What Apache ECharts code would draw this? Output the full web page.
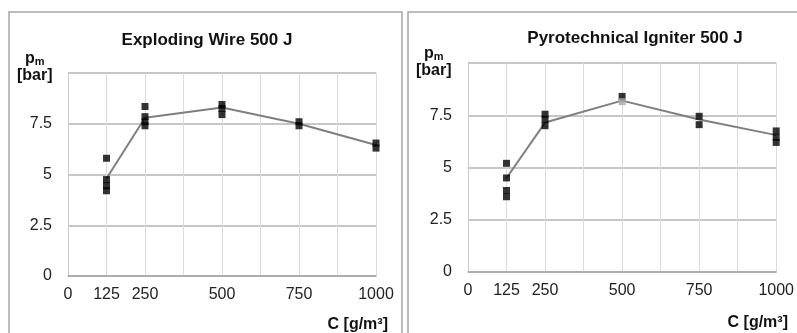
<!DOCTYPE html>
<html>
<head>
<meta charset="utf-8">
<script src="https://cdn.jsdelivr.net/npm/echarts@6/dist/echarts.min.js"></script>
<style>
  html, body { margin: 0; padding: 0; background: #fff; }
  #chart { width: 797px; height: 333px; }
</style>
</head>
<body>
<div id="chart"></div>
<script>
// concentration axis (g/m³)
const xTicks = [0, 125, 250, 500, 750, 1000]
const concentrations = [125, 250, 500, 750, 1000]

// Exploding wire 500 J: mean line + single shots
const wireMean = [4.8, 7.8, 8.3, 7.5, 6.45]
const wireShots = [
  [125, 5.8], [125, 4.75], [125, 4.45], [125, 4.2],
  [250, 8.35], [250, 7.85], [250, 7.6], [250, 7.4],
  [500, 8.45], [500, 8.25], [500, 7.95],
  [750, 7.6], [750, 7.4],
  [1000, 6.55], [1000, 6.3],
]

// Pyrotechnical igniter 500 J
const igniterMean = [4.5, 7.15, 8.2, 7.3, 6.55]
const igniterShots = [
  [125, 5.2], [125, 4.5], [125, 3.9], [125, 3.6],
  [250, 7.55], [250, 7.3], [250, 7.0],
  [500, 8.4],
  [750, 7.45], [750, 7.05],
  [1000, 6.75], [1000, 6.45], [1000, 6.2],
]
const igniterGrey = [[500, 8.15]]

const font = "Liberation Sans, Arial, sans-serif"

const chart = echarts.init(document.getElementById("chart"))

const xAxisFor = (gridIndex) => ({
  gridIndex,
  type: "value",
  min: 0,
  max: 1000,
  interval: 125,
  axisLine: { show: true, lineStyle: { color: "#a6a6a6", width: 1.5 } },
  axisTick: { show: false },
  splitLine: { show: true, lineStyle: { color: "#dcdcdc", width: 1 } },
  axisLabel: {
    color: "#222",
    fontSize: 16,
    fontFamily: font,
    margin: 11,
    showMaxLabel: true,
    formatter: (v) => (xTicks.includes(v) ? String(v) : ""),
  },
})

const yAxisFor = (gridIndex) => ({
  gridIndex,
  type: "value",
  min: 0,
  max: 10,
  interval: 2.5,
  axisLine: { show: true, lineStyle: { color: "#c8c8c8", width: 1 } },
  axisTick: { show: false },
  splitLine: { show: true, lineStyle: { color: "#b4b4b4", width: 1.5 } },
  axisLabel: {
    color: "#222",
    fontSize: 16,
    fontFamily: font,
    margin: 16,
    formatter: (v) => (v === 10 ? "" : String(v)),
  },
})

const lineSeries = (idx, values) => ({
  type: "line",
  xAxisIndex: idx,
  yAxisIndex: idx,
  data: concentrations.map((c, i) => [c, values[i]]),
  symbol: "none",
  lineStyle: { color: "#7f7f7f", width: 2 },
  z: 2,
})

const shotSeries = (idx, points, color) => ({
  type: "scatter",
  xAxisIndex: idx,
  yAxisIndex: idx,
  data: points,
  symbol: "rect",
  symbolSize: [7, 7],
  itemStyle: { color },
  z: 3,
})

const pLabel = (x, y) => ({
  type: "text",
  left: x,
  top: y,
  style: {
    text: "{p|p}{m|m}\n{b|[bar]}",
    rich: {
      p: { fontSize: 16, fontWeight: "bold", fontFamily: font, fill: "#111", padding: [0, 0, 0, 8] },
      m: { fontSize: 11, fontWeight: "bold", fontFamily: font, fill: "#111", verticalAlign: "bottom", padding: [4, 0, 0, 0] },
      b: { fontSize: 16, fontWeight: "bold", fontFamily: font, fill: "#111", lineHeight: 17 },
    },
  },
})

chart.setOption({
  animation: false,
  backgroundColor: "#fff",
  title: [
    {
      text: "Exploding Wire 500 J",
      left: 202,
      top: 27,
      textAlign: "center",
      textStyle: { fontSize: 17, fontWeight: "bold", fontFamily: font, color: "#111" },
    },
    {
      text: "Pyrotechnical Igniter 500 J",
      left: 630,
      top: 25,
      textAlign: "center",
      textStyle: { fontSize: 17, fontWeight: "bold", fontFamily: font, color: "#111" },
    },
  ],
  grid: [
    { left: 68, right: 421, top: 73, bottom: 57 },
    { left: 468, right: 20, top: 63, bottom: 61 },
  ],
  xAxis: [xAxisFor(0), xAxisFor(1)],
  yAxis: [yAxisFor(0), yAxisFor(1)],
  graphic: [
    {
      type: "rect",
      shape: { x: 9, y: 12, width: 393, height: 340 },
      style: { fill: "none", stroke: "#a6a6a6", lineWidth: 1.5 },
      silent: true,
    },
    {
      type: "rect",
      shape: { x: 408, y: 12, width: 400, height: 340 },
      style: { fill: "none", stroke: "#a6a6a6", lineWidth: 1.5 },
      silent: true,
    },
    pLabel(17, 51),
    pLabel(416, 46),
    {
      type: "text",
      right: 797 - 388,
      top: 317,
      style: { text: "C [g/m³]", fontSize: 16, fontWeight: "bold", fontFamily: font, fill: "#111" },
    },
    {
      type: "text",
      right: 9,
      top: 315,
      style: { text: "C [g/m³]", fontSize: 16, fontWeight: "bold", fontFamily: font, fill: "#111" },
    },
  ],
  series: [
    lineSeries(0, wireMean),
    shotSeries(0, wireShots, "#000"),
    lineSeries(1, igniterMean),
    shotSeries(1, igniterShots, "#000"),
    shotSeries(1, igniterGrey, "#a8a8a8"),
  ],
})
</script>
</body>
</html>
